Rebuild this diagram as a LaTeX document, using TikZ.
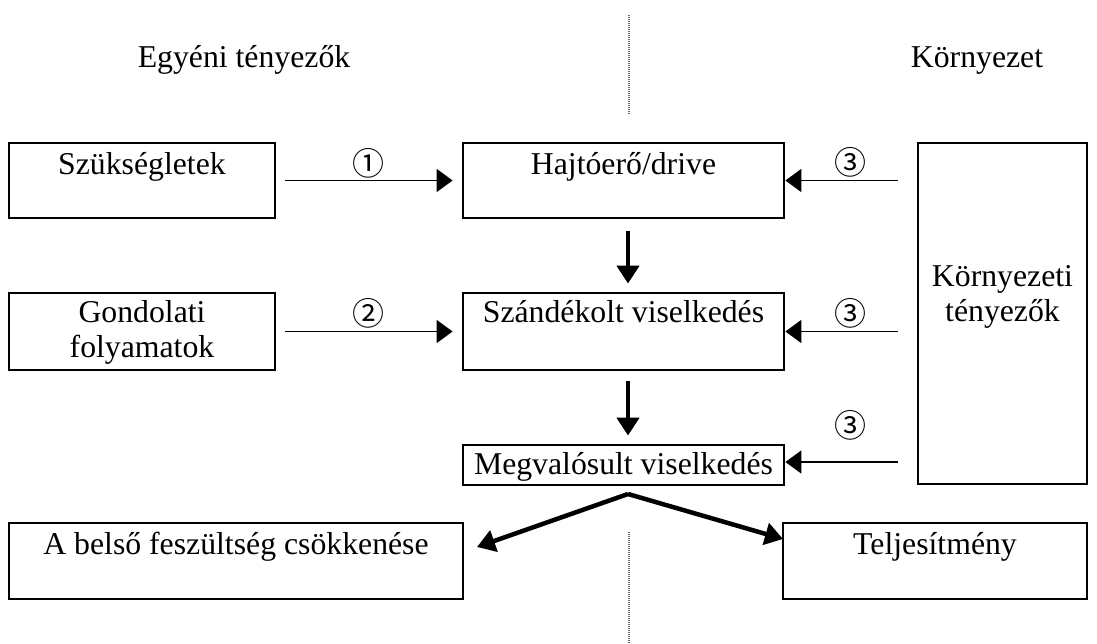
\documentclass[tikz,border=0pt]{standalone}
\usepackage{fontspec}
\setmainfont{Liberation Serif}
\newfontfamily\circledfont{Noto Sans CJK JP}
\usetikzlibrary{arrows.meta}
\begin{document}
\begin{tikzpicture}[x=1pt,y=-1pt,
  box/.style={draw, line width=2.8pt, inner sep=0pt, minimum width=#1},
  txt/.style={inner sep=0pt, anchor=base, font=\fontsize{31.75}{35}\selectfont},
  mtxt/.style={inner sep=0pt, align=center, font=\fontsize{31.75}{35}\selectfont},
  num/.style={inner sep=0pt, font=\circledfont\fontsize{32}{32}\selectfont},
  thinarr/.style={line width=1.7pt, -{Triangle[length=16pt,width=23pt]}},
  bigarr/.style={line width=4.5pt, -{Triangle[length=18pt,width=22pt]}},
  divider/.style={line width=1.2pt, black!60, dash pattern=on 1pt off 1pt}]
\path[use as bounding box] (0,0) rectangle (1097,644);

% column dividers
\draw[divider] (629,15) -- (629,115);
\draw[divider] (629,532) -- (629,643);

% headings
\node[txt] (hleft) at (244,68) {Egyéni tényezők};
\node[txt] (hright) at (977,68) {Környezet};

% boxes
\node[box=266pt, minimum height=75pt] (szuk) at (142,180.5) {};
\node[box=321pt, minimum height=75pt] (hajto) at (623.5,180.5) {};
\node[box=266pt, minimum height=77pt] (gond) at (142,331.5) {};
\node[box=321pt, minimum height=77pt] (szand) at (623.5,331.5) {};
\node[box=321pt, minimum height=40pt] (megv) at (623.5,465) {};
\node[box=169pt, minimum height=341pt] (kornyt) at (1002.5,313.5) {};
\node[box=454pt, minimum height=76pt] (belso) at (236,561) {};
\node[box=304pt, minimum height=76pt] (telj) at (935,561) {};

% box texts
\node[txt] (szukT) at (142,175) {Szükségletek};
\node[txt] (hajtoT) at (623.5,175) {Hajtóerő/drive};
\node[mtxt] (gondT) at (142,332) {Gondolati\\folyamatok};
\node[txt] (szandT) at (623.5,322) {Szándékolt viselkedés};
\node[txt] (megvT) at (623.5,474) {Megvalósult viselkedés};
\node[mtxt] (kornytT) at (1002.5,297) {Környezeti\\tényezők};
\node[txt] (belsoT) at (236,554) {A belső feszültség csökkenése};
\node[txt] (teljT) at (935,554) {Teljesítmény};

% circled labels
\node[num] (n1) at (368,163) {①};
\node[num] (n2) at (368,313) {②};
\node[num] (n3a) at (850,162) {③};
\node[num] (n3b) at (850,313) {③};
\node[num] (n3c) at (850,425) {③};

% individual factors
\draw[thinarr, shorten <=9pt, shorten >=9pt] (szuk.east) -- (hajto.west);
\draw[thinarr, shorten <=9pt, shorten >=9pt] (gond.east) -- (szand.west);

% environment
\draw[thinarr, shorten <=19pt] (kornyt.west |- hajto.east) -- (hajto.east);
\draw[thinarr, shorten <=19pt] (kornyt.west |- szand.east) -- (szand.east);
\draw[thinarr, shorten <=19pt] ([yshift=3pt]kornyt.west |- megv.east) -- ([yshift=3pt]megv.east);

% main chain
\draw[bigarr, shorten <=12pt, shorten >=8pt] ([xshift=4.5pt]hajto.south) -- ([xshift=4.5pt]szand.north);
\draw[bigarr, shorten <=10pt, shorten >=8pt] ([xshift=4.5pt]szand.south) -- ([xshift=4.5pt]megv.north);

% outcomes
\coordinate (peak) at (628,494);
\coordinate (tipL) at (477,547);
\coordinate (tipR) at (783,539);
\draw[bigarr] (peak) -- (tipL);
\draw[bigarr] (peak) -- (tipR);
\end{tikzpicture}
\end{document}
